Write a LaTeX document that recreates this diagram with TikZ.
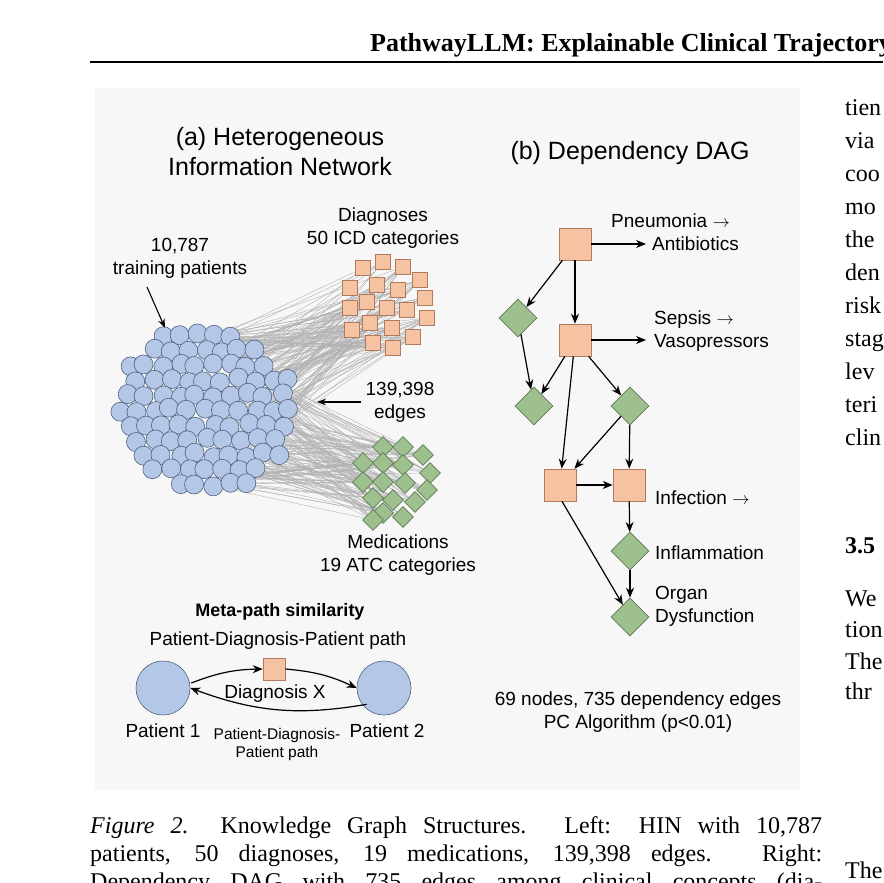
\documentclass[tikz,border=0pt]{standalone}
\usepackage{fontspec}
\setmainfont{Liberation Serif}
\newfontfamily\figsans{Liberation Sans}
\usetikzlibrary{positioning,shapes.geometric,backgrounds,arrows.meta}
\definecolor{patfill}{HTML}{B4C7E6}
\definecolor{patdraw}{HTML}{50607E}
\definecolor{dxfill}{HTML}{F6C3A2}
\definecolor{dxdraw}{HTML}{B27A5C}
\definecolor{medfill}{HTML}{9EBF8E}
\definecolor{meddraw}{HTML}{5E7D55}
\tikzset{
  patient/.style={circle,fill=patfill,draw=patdraw,line width=0.6pt,minimum size=19pt,inner sep=0pt},
  dx/.style={rectangle,fill=dxfill,draw=dxdraw,line width=0.6pt,minimum size=#1,inner sep=0pt},
  dx/.default=15pt,
  med/.style={diamond,fill=medfill,draw=meddraw,line width=0.6pt,minimum size=#1,inner sep=0pt},
  med/.default=21pt,
  lbl/.style={font=\figsans\fontsize{19}{23}\selectfont,align=center,inner sep=0pt},
  body/.style={font=\fontsize{24}{28}\selectfont,anchor=base west,inner sep=0pt},
  dep/.style={-{Stealth[length=10pt,width=8pt]},line width=1.2pt},
  web/.style={gray!60,line width=0.4pt}
}
\begin{document}
\begin{tikzpicture}[x=1pt,y=-1pt]
\useasboundingbox (0,0) rectangle (883,883);
\clip (0,0) rectangle (883,883);
% page head
\node[font=\bfseries\fontsize{26}{30}\selectfont,anchor=base west,inner sep=0pt] (head) at (370,52) {PathwayLLM: Explainable Clinical Trajectory};
\draw[line width=2pt] (90,62) -- (883,62);
% figure panel
\begin{scope}[on background layer]
\fill[black!3] (95,88) rectangle (800,790);
\end{scope}
\node[lbl,font=\figsans\fontsize{25}{30}\selectfont] (ta) at (280,152) {(a) Heterogeneous\\Information Network};
\node[lbl,font=\figsans\fontsize{25}{30}\selectfont] (tb) at (630,153) {(b) Dependency DAG};
% patients
\pgfmathsetseed{3}
\foreach \r in {-6,...,6}{\foreach \c in {-6,...,6}{
  \pgfmathsetmacro\px{205+\c*17+mod(abs(\r),2)*8.5+rnd*5-2.5}
  \pgfmathsetmacro\py{410+\r*15+rnd*5-2.5}
  \pgfmathsetmacro\dd{(\px-205)^2/90^2+(\py-410)^2/85^2}
  \ifdim\dd pt<1pt \node[patient] (p\r\c) at (\px,\py) {}; \fi}}
% diagnoses
\foreach \x/\y [count=\k] in {363/268,383/262,403/267,420/280,350/288,377/285,398/290,425/298,350/308,367/302,387/308,407/310,427/318,352/330,370/323,392/328,413/337,373/343,393/348}
  \node[dx] (d\k) at (\x,\y) {};
% medications
\foreach \x/\y [count=\k] in {383/447,403/447,423/455,363/463,383/463,403/465,430/473,363/482,383/482,405/483,427/490,373/498,393/500,415/502,383/513,403/517,373/520}
  \node[med] (m\k) at (\x,\y) {};
% edges behind
\begin{scope}[on background layer]
\pgfmathsetseed{7}
\foreach \i in {1,...,150}{
  \pgfmathsetmacro\a{rnd*120-85}
  \pgfmathrandominteger\k{1}{19}
  \coordinate (s\i) at ({205+(0.3+0.7*rnd)*75*cos(\a)},{410+75*sin(\a)});
  \draw[web] (s\i) -- (d\k);}
\foreach \i in {1,...,150}{
  \pgfmathsetmacro\a{rnd*120-35}
  \pgfmathrandominteger\k{1}{17}
  \coordinate (t\i) at ({205+(0.3+0.7*rnd)*75*cos(\a)},{410+75*sin(\a)});
  \draw[web] (t\i) -- (m\k);}
\end{scope}
\node[lbl] (dxl) at (383,228) {Diagnoses\\50 ICD categories};
\node[lbl] (ptl) at (180,258) {10,787\\training patients};
\coordinate (ptip) at (165,328);
\draw[-{Stealth[length=9pt]},line width=1.1pt] (147,287) -- (ptip);
\node[lbl] (edl) at (400,402) {139,398\\edges};
\coordinate (etip) at (317,402);
\draw[-{Stealth[length=9pt]},line width=1.1pt] (edl.west) ++(-4,0) -- (etip);
\node[lbl] (mdl) at (398,555) {Medications\\19 ATC categories};
% meta-path
\node[lbl,font=\figsans\bfseries\fontsize{18}{22}\selectfont] (mp) at (280,612) {Meta-path similarity};
\node[lbl] (mpp) at (278,641) {Patient-Diagnosis-Patient path};
\node[patient,minimum size=54pt] (p1) at (163,688) {};
\node[patient,minimum size=54pt] (p2) at (384,688) {};
\node[dx=22pt] (dxx) at (274,669) {};
\node[lbl] (dxxl) at (275,694) {Diagnosis X};
\node[lbl] (p1l) at (163,731) {Patient 1};
\node[lbl] (p2l) at (387,731) {Patient 2};
\node[lbl,font=\figsans\fontsize{15.5}{18}\selectfont] (pdp) at (277,744) {Patient-Diagnosis-\\Patient path};
\draw[dep] (p1.east) ++(1,-5) to[bend left=10] (dxx.west);
\draw[dep] (dxx.east) to[bend left=10] (p2.west);
\draw[dep] (p2.south west) ++(2,-3) to[bend left=15] (p1.east);
% DAG
\node[dx=32pt] (s1) at (575,244) {};
\node[dx=32pt] (s2) at (575,340) {};
\node[dx=32pt] (s3) at (560,485) {};
\node[dx=32pt] (s4) at (629,485) {};
\node[med=38pt] (q1) at (518,318) {};
\node[med=38pt] (q2) at (534,406) {};
\node[med=38pt] (q3) at (630,406) {};
\node[med=38pt] (q4) at (630,551) {};
\node[med=38pt] (q5) at (630,617) {};
\coordinate (a1) at (646,244);
\coordinate (a2) at (646,340);
\draw[dep] (s1) -- (a1);
\draw[dep] (s2) -- (a2);
\draw[dep] (s1) -- (q1);
\draw[dep] (s1) -- (s2);
\draw[dep] (q1) -- (q2);
\draw[dep] (s2) -- (q2);
\draw[dep] (s2) -- (s3);
\draw[dep] (s2) -- (q3);
\draw[dep] (q3) -- (s3);
\draw[dep] (q3) -- (s4);
\draw[dep] (s3) -- (s4);
\draw[dep] (s4) -- (q4);
\draw[dep] (q4) -- (q5);
\draw[dep] (s3.south) ++(2,0) -- (q5);
\node[lbl,anchor=west] (pn) at (611,221) {Pneumonia $\rightarrow$};
\node[lbl,anchor=west] (ab) at (652,244) {Antibiotics};
\node[lbl,anchor=west,align=left] (sp) at (654,331) {Sepsis $\rightarrow$\\Vasopressors};
\node[lbl,anchor=west] (inf) at (655,498) {Infection $\rightarrow$};
\node[lbl,anchor=west] (ifl) at (655,553) {Inflammation};
\node[lbl,anchor=west,align=left] (od) at (655,606) {Organ\\Dysfunction};
\node[lbl] (stat) at (638,712) {69 nodes, 735 dependency edges\\PC Algorithm (p<0.01)};
% right column
\foreach \w/\y [count=\k] in {tien/115,via/148,coo/181,mo/214,the/247,den/280,risk/313,stag/346,lev/379,teri/412,clin/445}
  \node[body] (c\k) at (845,\y) {\w};
\node[body,font=\bfseries\fontsize{24}{28}\selectfont] (sec) at (845,553) {3.5};
\node[body] (we) at (845,606) {We};
\node[body] (tio) at (845,637) {tion};
\node[body] (th1) at (845,669) {The};
\node[body] (th2) at (845,699) {thr};
\node[body] (th3) at (845,878) {The};
% caption
\node[body] (cap1) at (90,833) {\makebox[732pt][s]{\textit{Figure 2.}\ \ Knowledge Graph Structures. Left: HIN with 10,787}};
\node[body] (cap2) at (90,861) {\makebox[732pt][s]{patients, 50 diagnoses, 19 medications, 139,398 edges. Right:}};
\node[body] (cap3) at (90,889) {\makebox[732pt][s]{Dependency DAG with 735 edges among clinical concepts (dia-}};
\end{tikzpicture}
\end{document}
